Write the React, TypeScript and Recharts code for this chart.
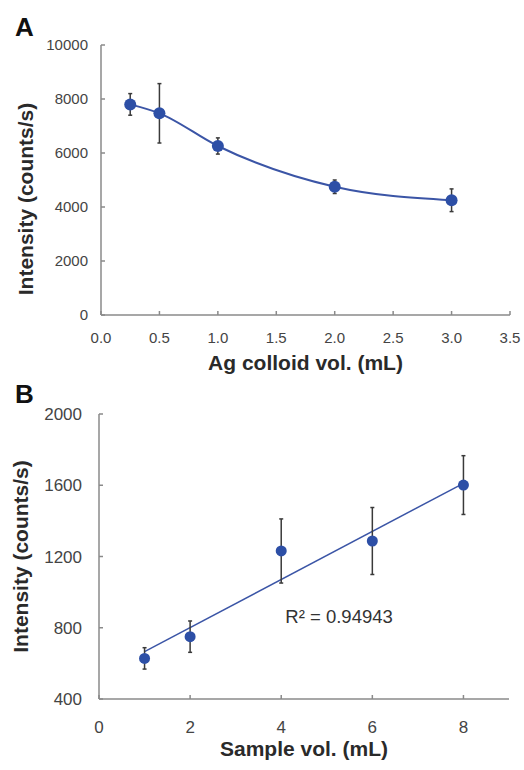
import React from 'react';
import {
  ComposedChart,
  Line,
  Scatter,
  ErrorBar,
  XAxis,
  YAxis,
  ReferenceDot,
} from 'recharts';

// Panel A
const colloidVol = [0.25, 0.5, 1.0, 2.0, 3.0];
const colloidIntensity = [7800, 7470, 6260, 4750, 4250];
const colloidErr = [400, 1100, 300, 250, 420];
const colloidXTicks = [0, 0.5, 1.0, 1.5, 2.0, 2.5, 3.0, 3.5];
const colloidYTicks = [0, 2000, 4000, 6000, 8000, 10000];

// Panel B
const sampleVol = [1, 2, 4, 6, 8];
const sampleIntensity = [628, 750, 1231, 1287, 1601];
const sampleErr = [60, 88, 180, 188, 165];
const trendVol = [1, 8];
const trendIntensity = [666, 1611];
const sampleXTicks = [0, 2, 4, 6, 8];
const sampleYTicks = [400, 800, 1200, 1600, 2000];
const rSquaredText = 'R² = 0.94943';

const dataA = colloidVol.map((x, i) => ({ x, y: colloidIntensity[i], err: colloidErr[i] }));
const dataB = sampleVol.map((x, i) => ({ x, y: sampleIntensity[i], err: sampleErr[i] }));
const trendB = trendVol.map((x, i) => ({ x, y: trendIntensity[i] }));

const FONT = '"Liberation Sans", Arial, Helvetica, sans-serif';
const AXIS = '#8a8a8a';
const BLUE = '#2d4fa6';
const LINE = '#3b55a6';
const ERR = '#3a3a3a';
const TITLE_STYLE = { fontSize: 21, fontWeight: 'bold', fill: '#2a2a2a', fontFamily: FONT };

const Dot = (r: number) => (props: any) => (
  <circle cx={props.cx} cy={props.cy} r={r} fill={BLUE} stroke="none" />
);

export default function App() {
  return (
    <div
      style={{
        position: 'absolute',
        left: 0,
        top: 0,
        width: 524,
        height: 770,
        background: '#fff',
        fontFamily: FONT,
      }}
    >
      <div style={{ position: 'absolute', left: 15, top: 13, fontSize: 26, fontWeight: 'bold', color: '#111', lineHeight: '28px' }}>A</div>
      <div style={{ position: 'absolute', left: 15, top: 380, fontSize: 26, fontWeight: 'bold', color: '#111', lineHeight: '28px' }}>B</div>

      <div style={{ position: 'absolute', left: 0, top: 0 }}>
        <ComposedChart width={524} height={390} data={dataA} margin={{ top: 45, right: 14, bottom: 0, left: 0 }}>
          <XAxis
            dataKey="x"
            type="number"
            domain={[0, 3.5]}
            ticks={colloidXTicks}
            tickFormatter={(v: number) => v.toFixed(1)}
            height={75}
            tickSize={-4}
            tickMargin={21}
            stroke={AXIS}
            strokeWidth={1.5}
            tick={{ fill: '#444', fontSize: 15, fontFamily: FONT }}
            label={{ value: 'Ag colloid vol. (mL)', position: 'center', dy: 10, style: TITLE_STYLE }}
          />
          <XAxis xAxisId="top" orientation="top" type="number" domain={[0, 3.5]} height={0} tick={false} tickLine={false} stroke={AXIS} strokeWidth={1.5} />
          <YAxis
            type="number"
            domain={[0, 10000]}
            ticks={colloidYTicks}
            width={101}
            tickSize={-4}
            tickMargin={17}
            stroke={AXIS}
            strokeWidth={1.5}
            tick={{ fill: '#444', fontSize: 15, fontFamily: FONT }}
            label={{ value: 'Intensity (counts/s)', angle: -90, position: 'center', dx: -25, dy: 19, style: { ...TITLE_STYLE, textAnchor: 'middle' } }}
          />
          <YAxis yAxisId="right" orientation="right" type="number" domain={[0, 10000]} width={0} tick={false} tickLine={false} stroke={AXIS} strokeWidth={1.5} />
          <Line type="monotone" dataKey="y" stroke={LINE} strokeWidth={2} dot={false} isAnimationActive={false} />
          <Scatter dataKey="y" shape={Dot(6)} isAnimationActive={false}>
            <ErrorBar dataKey="err" direction="y" width={2} stroke={ERR} strokeWidth={1.5} />
          </Scatter>
        </ComposedChart>
      </div>

      <div style={{ position: 'absolute', left: 0, top: 390 }}>
        <ComposedChart width={524} height={380} data={dataB} margin={{ top: 24, right: 15, bottom: 0, left: 0 }}>
          <XAxis
            dataKey="x"
            type="number"
            domain={[0, 9]}
            ticks={sampleXTicks}
            height={71}
            tickSize={-4}
            tickMargin={26}
            stroke={AXIS}
            strokeWidth={1.5}
            tick={{ fill: '#444', fontSize: 17, fontFamily: FONT }}
            label={{ value: 'Sample vol. (mL)', position: 'center', dy: 14, style: TITLE_STYLE }}
          />
          <XAxis xAxisId="top" orientation="top" type="number" domain={[0, 9]} height={0} tick={false} tickLine={false} stroke={AXIS} strokeWidth={1.5} />
          <YAxis
            type="number"
            domain={[400, 2000]}
            ticks={sampleYTicks}
            width={99}
            tickSize={-4}
            tickMargin={21}
            stroke={AXIS}
            strokeWidth={1.5}
            tick={{ fill: '#444', fontSize: 17, fontFamily: FONT }}
            label={{ value: 'Intensity (counts/s)', angle: -90, position: 'center', dx: -29, dy: 0, style: { ...TITLE_STYLE, textAnchor: 'middle' } }}
          />
          <YAxis yAxisId="right" orientation="right" type="number" domain={[400, 2000]} width={0} tick={false} tickLine={false} stroke={AXIS} strokeWidth={1.5} />
          <Line data={trendB} type="linear" dataKey="y" stroke={LINE} strokeWidth={1.5} dot={false} isAnimationActive={false} />
          <Scatter dataKey="y" shape={Dot(5.5)} isAnimationActive={false}>
            <ErrorBar dataKey="err" direction="y" width={2} stroke={ERR} strokeWidth={1.5} />
          </Scatter>
          <ReferenceDot
            x={5.27}
            y={862}
            r={0}
            fill="none"
            stroke="none"
            label={{ value: rSquaredText, position: 'center', style: { fontSize: 18.5, fill: '#333', fontFamily: FONT } }}
          />
        </ComposedChart>
      </div>
    </div>
  );
}
